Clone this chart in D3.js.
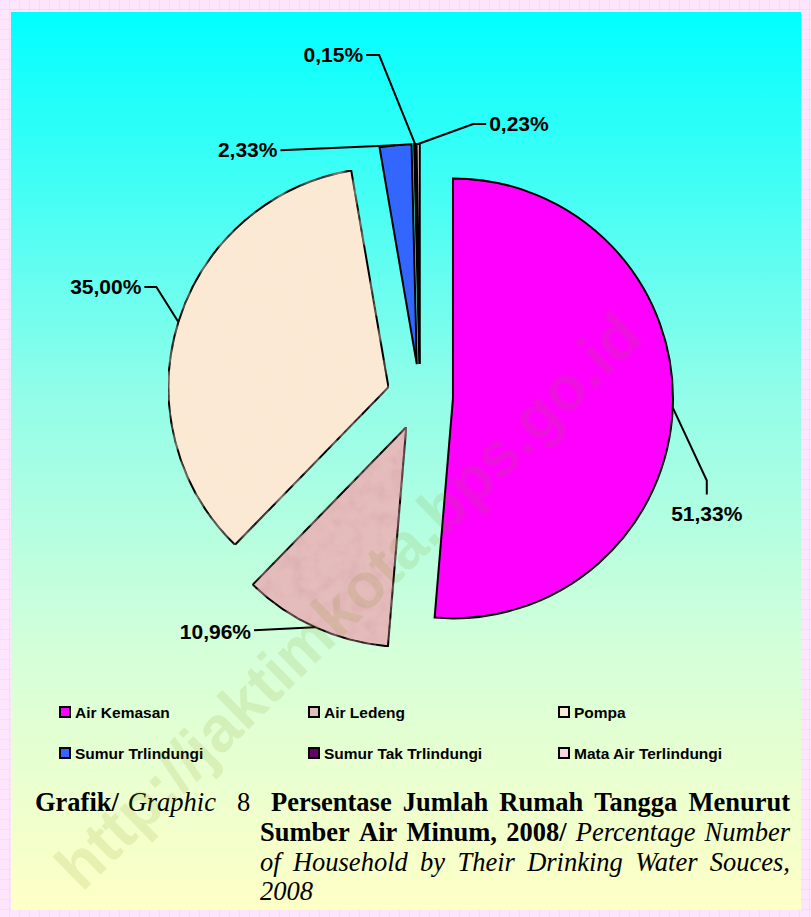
<!DOCTYPE html>
<html>
<head>
<meta charset="utf-8">
<script src="https://cdn.jsdelivr.net/npm/d3@7"></script>
<style>
  html, body { margin: 0; padding: 0; background: #fde6fd; }
  svg { display: block; }
</style>
</head>
<body>
<svg id="chart"></svg>
<script>
// data, in the order Excel drew it (clockwise from 12 o'clock)
const categories = ["Air Kemasan", "Air Ledeng", "Pompa", "Sumur Trlindungi", "Sumur Tak Trlindungi", "Mata Air Terlindungi"];
const values     = [51.33, 10.96, 35.00, 2.33, 0.15, 0.23];
const labels     = ["51,33%", "10,96%", "35,00%", "2,33%", "0,15%", "0,23%"];
const colors     = ["#ff00ff", "#e5bcbc", "#fbe9d4", "#3366ff", "#660066", "#f6d6e0"];
const textures   = [null, "mottleRose", "mottleCream", null, null, null];

// leader line layout per slice: elbow + end offsets from the arc point, text side
const leaders = [
  { elbow: [34, 73],   end: [34, 87],   text: [34, 113], anchor: "middle" },
  { elbow: [-61, 3],   end: [-61, 3],   text: [-64, 12], anchor: "end" },
  { elbow: [-22, -35], end: [-34, -35], text: [-37, -28], anchor: "end" },
  { elbow: [-115, 5],  end: [-115, 5],  text: [-118, 12], anchor: "end" },
  { elbow: [-36, -89], end: [-49, -89], text: [-52, -82], anchor: "end" },
  { elbow: [55, -20],  end: [68, -20],  text: [71, -13], anchor: "start" }
];

const width = 811, height = 917;
const cx = 420, cy = 397, radius = 220, explode = 33;

const svg = d3.select("#chart").attr("width", width).attr("height", height);
const defs = svg.append("defs");

// pink grid paper behind the panel
const grid = defs.append("pattern")
    .attr("id", "grid")
    .attr("width", 10).attr("height", 10)
    .attr("patternUnits", "userSpaceOnUse");
grid.append("rect").attr("width", 10).attr("height", 10).attr("fill", "#fde6fd");
grid.append("path").attr("d", "M10,0V10M0,10H10").attr("stroke", "#f6cff6").attr("stroke-width", 1);

const grad = defs.append("linearGradient")
    .attr("id", "panelGrad")
    .attr("x1", 0).attr("y1", 0).attr("x2", 0).attr("y2", 1);
[[0, "#00ffff"], [0.42, "#90fde9"], [0.72, "#d6ffd8"], [1, "#ffffc6"]].forEach(([o, c]) =>
  grad.append("stop").attr("offset", o).attr("stop-color", c));

// mottled fill textures (Excel "paper" fills)
function mottle(id, rgb, strength) {
  const f = defs.append("filter").attr("id", id)
      .attr("x", 0).attr("y", 0).attr("width", 1).attr("height", 1);
  f.append("feTurbulence")
      .attr("type", "fractalNoise").attr("baseFrequency", 0.07)
      .attr("numOctaves", 3).attr("seed", 4).attr("result", "n");
  f.append("feColorMatrix")
      .attr("in", "n").attr("type", "matrix")
      .attr("values", `0 0 0 0 ${rgb[0]}  0 0 0 0 ${rgb[1]}  0 0 0 0 ${rgb[2]}  ${strength} 0 0 0 ${-strength * 0.4}`)
      .attr("result", "c");
  f.append("feComposite").attr("in", "c").attr("in2", "SourceGraphic")
      .attr("operator", "in").attr("result", "t");
  const m = f.append("feMerge");
  m.append("feMergeNode").attr("in", "SourceGraphic");
  m.append("feMergeNode").attr("in", "t");
}
mottle("mottleRose", [0.65, 0.35, 0.38], 0.9);
mottle("mottleCream", [0.93, 0.82, 0.66], 0.6);

svg.append("rect").attr("width", width).attr("height", height).attr("fill", "url(#grid)");
svg.append("rect")
    .attr("x", 11).attr("y", 12)
    .attr("width", 790).attr("height", 898)
    .attr("fill", "url(#panelGrad)");

// pie
const pie = d3.pie().sort(null).value(d => d);
const arc = d3.arc().innerRadius(0).outerRadius(radius);
const arcs = pie(values);

const offset = d => {
  const m = (d.startAngle + d.endAngle) / 2;
  return [Math.sin(m) * explode, -Math.cos(m) * explode];
};
const arcPoint = d => {
  const m = (d.startAngle + d.endAngle) / 2, [ox, oy] = offset(d);
  return [cx + ox + Math.sin(m) * radius, cy + oy - Math.cos(m) * radius];
};

const g = svg.append("g");
g.selectAll("path.slice")
  .data(arcs)
  .join("path")
    .attr("class", "slice")
    .attr("transform", d => { const [ox, oy] = offset(d); return `translate(${cx + ox},${cy + oy})`; })
    .attr("d", arc)
    .attr("fill", (d, i) => colors[i])
    .attr("filter", (d, i) => textures[i] ? `url(#${textures[i]})` : null)
    .attr("stroke", "#000")
    .attr("stroke-width", 2)
    .attr("stroke-linejoin", "miter");

// leader lines + labels
arcs.forEach((d, i) => {
  const [px, py] = arcPoint(d), L = leaders[i];
  g.append("polyline")
    .attr("points", [[px, py], [px + L.elbow[0], py + L.elbow[1]], [px + L.end[0], py + L.end[1]]].join(" "))
    .attr("fill", "none").attr("stroke", "#000").attr("stroke-width", 2);
  g.append("text")
    .attr("x", px + L.text[0]).attr("y", py + L.text[1])
    .attr("text-anchor", L.anchor)
    .attr("font-family", "Arial, 'Liberation Sans', sans-serif")
    .attr("font-weight", "bold").attr("font-size", 21)
    .text(labels[i]);
});

// legend, 3 columns x 2 rows
const legX = [60, 309, 559], legY = [707, 748];
const leg = svg.append("g").selectAll("g")
  .data(categories)
  .join("g")
    .attr("transform", (d, i) => `translate(${legX[i % 3]},${legY[Math.floor(i / 3)]})`);
leg.append("rect")
    .attr("width", 10).attr("height", 10)
    .attr("fill", (d, i) => colors[i])
    .attr("stroke", "#000").attr("stroke-width", 2);
leg.append("text")
    .attr("x", 15).attr("y", 11)
    .attr("font-family", "Arial, 'Liberation Sans', sans-serif")
    .attr("font-weight", "bold").attr("font-size", 15.5)
    .text(d => d);

// caption, justified like the printed page
const serif = "'Times New Roman', 'Liberation Serif', serif";
function justify(words, x0, x1, y, stretch) {
  const nodes = words.map(w => svg.append("text")
    .attr("y", y)
    .attr("font-family", serif).attr("font-size", 26.5)
    .attr("font-weight", w.b ? "bold" : "normal")
    .attr("font-style", w.i ? "italic" : "normal")
    .text(w.t));
  const widths = nodes.map(n => n.node().getComputedTextLength());
  const total = d3.sum(widths);
  const gap = stretch && nodes.length > 1 ? (x1 - x0 - total) / (nodes.length - 1) : 6.6;
  let x = x0;
  nodes.forEach((n, k) => { n.attr("x", x); x += widths[k] + gap; });
}
const W = (s, b, i) => s.split(" ").map(t => ({ t, b, i }));

justify([...W("Grafik/", true), ...W("Graphic", false, true)], 35, 216, 811, true);
justify(W("8"), 237, 249, 811, false);
justify(W("Persentase Jumlah Rumah Tangga Menurut", true), 271, 790, 811, true);
justify([...W("Sumber Air Minum, 2008/", true), ...W("Percentage Number", false, true)], 260, 790, 841, true);
justify(W("of Household by Their Drinking Water Souces,", false, true), 260, 790, 871, true);
justify(W("2008", false, true), 260, 790, 900, false);

// watermark
svg.append("text")
    .attr("transform", "translate(82,893) rotate(-44.5)")
    .attr("font-family", "Arial, 'Liberation Sans', sans-serif")
    .attr("font-weight", "bold").attr("font-size", 64)
    .attr("textLength", 790).attr("lengthAdjust", "spacingAndGlyphs")
    .attr("fill", "#7a8a10").attr("fill-opacity", 0.13)
    .text("http://jaktimkota.bps.go.id");
</script>
</body>
</html>
